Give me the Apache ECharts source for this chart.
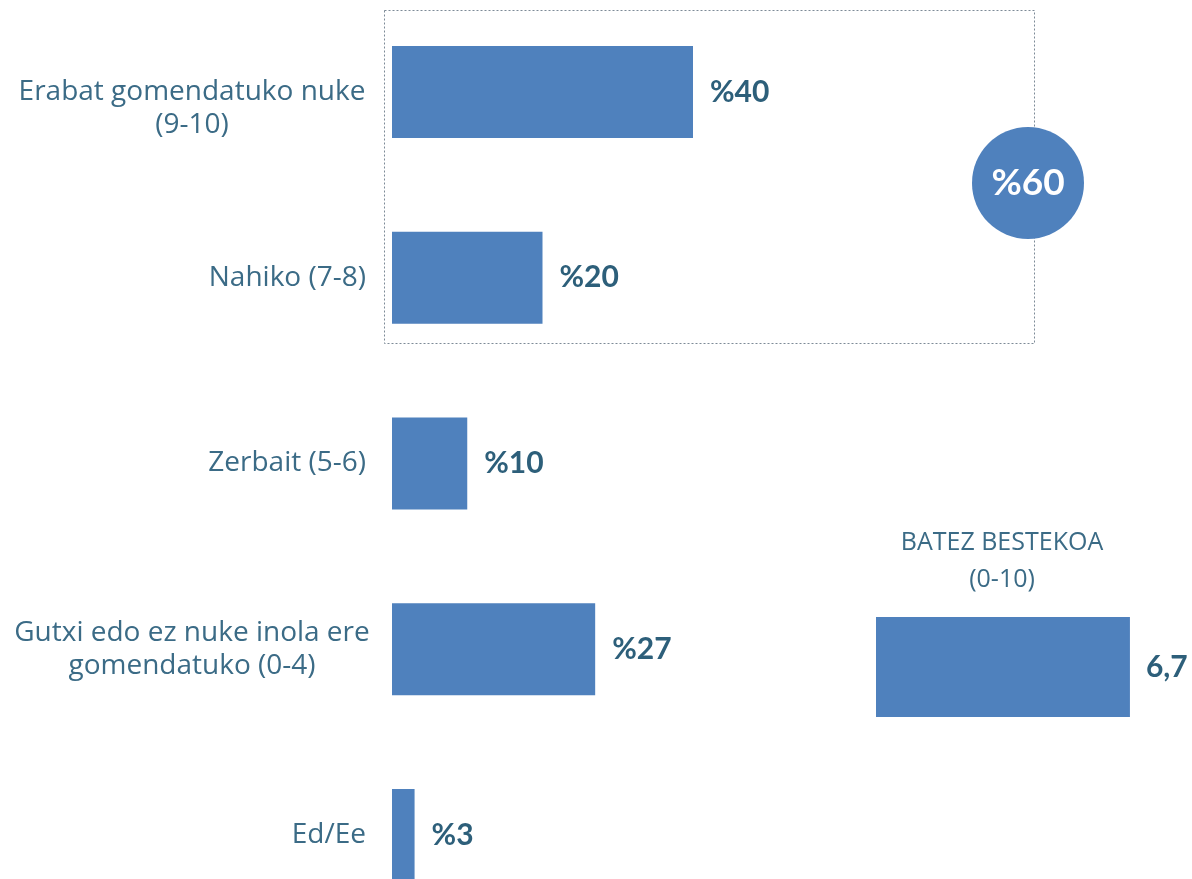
<!DOCTYPE html>
<html>
<head>
<meta charset="utf-8">
<script src="https://cdn.jsdelivr.net/npm/echarts@6/dist/echarts.min.js"></script>
<style>
  html, body { margin: 0; padding: 0; background: #fff; }
  #chart { width: 1192px; height: 879px; }
</style>
</head>
<body>
<div id="chart"></div>
<script>
// zenbat gomendatuko luke
const categories = [
  'Erabat gomendatuko nuke\n(9-10)',
  'Nahiko (7-8)',
  'Zerbait (5-6)',
  'Gutxi edo ez nuke inola ere\ngomendatuko (0-4)',
  'Ed/Ee',
];
const percents = [40, 20, 10, 27, 3];

// batez bestekoa
const avgLabel = ['BATEZ BESTEKOA'];
const avgValues = [6.7];

const barColor = '#4f81bd';
const textColor = '#3b6b86';
const valueColor = '#2d5f7a';
const fontFamily = 'Lato, "Noto Sans", sans-serif';
const labelFont = '"Open Sans", Lato, sans-serif';

const topTwo = percents[0] + percents[1];

/* lehen etiketa apur bat beherago dago jatorrizkoan */
const categoryData = categories.map((c, i) => (i === 0
  ? { value: c, textStyle: { padding: [34, 0, 0, 0] } }
  : c));

const chart = echarts.init(document.getElementById('chart'));

chart.setOption({
  animation: false,
  backgroundColor: '#fff',
  textStyle: { fontFamily },
  title: {
    text: 'BATEZ BESTEKOA\n(0-10)',
    left: 997,
    top: 519,
    textAlign: 'center',
    textStyle: {
      color: textColor,
      fontSize: 25,
      fontWeight: 'normal',
      lineHeight: 37,
      fontFamily: labelFont,
    },
  },
  grid: [
    { left: 392, top: -1, width: 752.5, height: 929, outerBoundsMode: 'none' },
    { left: 876, top: 617, width: 379, height: 100, outerBoundsMode: 'none' },
  ],
  xAxis: [
    { gridIndex: 0, type: 'value', min: 0, max: 100, show: false },
    { gridIndex: 1, type: 'value', min: 0, max: 10, show: false },
  ],
  yAxis: [
    {
      gridIndex: 0,
      type: 'category',
      inverse: true,
      data: categoryData,
      axisLine: { show: false },
      axisTick: { show: false },
      axisLabel: {
        margin: 26,
        color: textColor,
        fontSize: 28,
        lineHeight: 33,
        align: 'right',
        fontFamily: labelFont,
        // bi lerroko etiketak erdian lerrokatuta
        formatter: (v) => (v.indexOf('\n') < 0 ? v : v.split('\n').map((l) => `{c|${l}}`).join('\n')),
        rich: {
          c: {
            width: 348,
            align: 'center',
            color: textColor,
            fontSize: 28,
            lineHeight: 33,
            fontFamily: labelFont,
          },
        },
      },
    },
    {
      gridIndex: 1,
      type: 'category',
      data: avgLabel,
      show: false,
    },
  ],
  series: [
    {
      type: 'bar',
      xAxisIndex: 0,
      yAxisIndex: 0,
      data: percents,
      barWidth: 92,
      itemStyle: { color: barColor },
      label: {
        show: true,
        position: 'right',
        distance: 17,
        formatter: (p) => `%${p.value}`,
        color: valueColor,
        fontSize: 30,
        fontWeight: 'bold',
        fontFamily,
      },
    },
    {
      type: 'bar',
      xAxisIndex: 1,
      yAxisIndex: 1,
      data: avgValues,
      barWidth: 100,
      itemStyle: { color: barColor },
      label: {
        show: true,
        position: 'right',
        distance: 16,
        formatter: (p) => String(p.value).replace('.', ','),
        color: valueColor,
        fontSize: 30,
        fontWeight: 'bold',
        fontFamily,
      },
    },
  ],
  graphic: [
    /* lehen bi kategorien koadroa */
    {
      type: 'rect',
      shape: { x: 384.5, y: 10.5, width: 650, height: 333 },
      style: {
        fill: 'none',
        stroke: '#7d8a97',
        lineWidth: 1,
        lineDash: [2, 2],
      },
    },
    {
      type: 'circle',
      shape: { cx: 1028, cy: 183, r: 56 },
      style: { fill: barColor },
      z: 10,
    },
    {
      type: 'text',
      x: 1028,
      y: 183,
      z: 11,
      style: {
        text: `%${topTwo}`,
        fill: '#fff',
        font: `bold 37px ${fontFamily}`,
        align: 'center',
        verticalAlign: 'middle',
      },
    },
  ],
});
</script>
</body>
</html>
